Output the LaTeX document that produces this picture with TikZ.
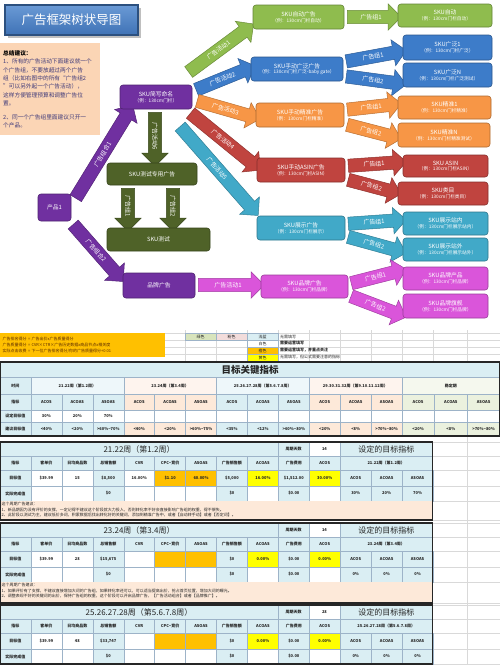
\documentclass[tikz,border=0pt]{standalone}
\usepackage{fontspec}
\setmainfont{Noto Sans CJK SC}
\usetikzlibrary{shapes.arrows,calc,shadows}
\definecolor{cpurple}{HTML}{7030A0}
\definecolor{cgreenD}{HTML}{4F6228}
\definecolor{cgreenL}{HTML}{8FBC4E}
\definecolor{cblue}{HTML}{3D7CC9}
\definecolor{corange}{HTML}{F79646}
\definecolor{cred}{HTML}{C0443F}
\definecolor{cteal}{HTML}{41A9C8}
\definecolor{cmag}{HTML}{DA55DA}
\definecolor{ctitle}{HTML}{3F72B5}
\definecolor{ctitleL}{HTML}{6A9AD6}
\definecolor{cpeach}{HTML}{FBD5B5}
\definecolor{sumtext}{HTML}{3F3A7A}
\definecolor{tblue}{HTML}{DAEEF3}
\definecolor{tpeach}{HTML}{FDE9D9}
\definecolor{tgreen}{HTML}{EBF1DE}
\definecolor{hblue}{HTML}{EEF7FA}
\definecolor{hpeach}{HTML}{FEF4EE}
\definecolor{hgreen}{HTML}{F5F8EE}
\definecolor{torange}{HTML}{FFC000}
\definecolor{tyellow}{HTML}{FFFF00}
\definecolor{lgreen}{HTML}{D8E4BC}
\definecolor{lpink}{HTML}{F2DCDB}
\definecolor{gridc}{HTML}{D9D9D9}
\definecolor{tline}{HTML}{9DB3C8}
\definecolor{legtext}{HTML}{5A2A00}
\newcount\cellcnt
\tikzset{
  tbox/.style={draw=#1!70!black, fill=#1, rounded corners=3pt, text=white, align=center,
    font=\fontsize{5.8}{6.8}\selectfont, line width=0.6pt, inner sep=1pt},
  blockarr/.style={single arrow, single arrow head extend=6.5pt, inner xsep=1pt, inner ysep=3.6pt,
    draw=#1!75!black, fill=#1, text=white, font=\fontsize{6}{6.4}\selectfont, line width=0.5pt},
  ctext/.style={font=\fontsize{4}{4.6}\selectfont\bfseries, text=black!85, inner sep=0pt, align=center},
  cline/.style={draw=tline, line width=0.35pt},
  gridl/.style={draw=gridc, line width=0.3pt},
  tborder/.style={draw=black!85, line width=1.1pt},
  notetext/.style={font=\fontsize{4}{5.6}\selectfont, text=black!85, align=left, inner sep=0pt, anchor=north west},
}
\newcommand\subl[1]{\\[-1.2pt]{\fontsize{4.7}{5.5}\selectfont #1}}
\newcommand\tbx[7]{\node[tbox=#6, minimum width={#4pt-#2pt}, minimum height={#5pt-#3pt}] (#1) at ({(#2+#4)/2},{(#3+#5)/2}) {#7};}
\newcommand\barrow[5]{%
  \coordinate (#1s) at (#2); \coordinate (#1e) at (#3);
  \path let \p1=($(#1e)-(#1s)$), \n1={atan2(\y1,\x1)}, \n2={veclen(\x1,\y1)} in
    node[blockarr=#4, rotate=\n1, minimum height=\n2] (#1) at ($(#1s)!0.5!(#1e)$) {#5};}
\newcommand\tc[6]{\global\advance\cellcnt by 1
  \path[cline, fill=#5] (#1,#2) rectangle (#3,#4);
  \node[ctext] (c\the\cellcnt) at ({(#1+#3)/2},{(#2+#4)/2}) {#6};}
\newcommand\trow[3]{\foreach \fc/\tx [count=\i from 0] in {#3} {%
  \pgfmathsetmacro\xa{\i*30.93}\pgfmathsetmacro\xb{(\i+1)*30.93}%
  \tc{\xa}{#1}{\xb}{#2}{\fc}{\tx}}}
\newcommand\labrow[2]{\trow{#1}{#2}{tblue/指标, tblue/客单价, tblue/日均商品数, tblue/总销售额, tblue/CVR, tblue/CPC\textasciitilde 竞价, tblue/ASOAS, tblue/广告销售额, tblue/ACOAS, tblue/广告费用, tblue/ACOS}}
% #1 top, #2 title, #3 days, #4 values, #5 actual, #6 notes height, #7 notes
\newcommand\ptable[7]{%
  \pgfmathsetmacro\ya{#1+14}\pgfmathsetmacro\yb{#1+28}\pgfmathsetmacro\yc{#1+44}\pgfmathsetmacro\yd{#1+59}\pgfmathsetmacro\ye{#1+59+#6}%
  \tc{0}{#1}{278.1}{\ya}{tblue}{{\fontsize{8}{9}\selectfont\mdseries #2}}
  \tc{278.1}{#1}{309}{\ya}{tblue}{周期天数}
  \tc{309}{#1}{339.9}{\ya}{white}{#3}
  \tc{339.9}{#1}{432.6}{\ya}{tblue}{{\fontsize{8}{9}\selectfont\mdseries 设定的目标指标}}
  \labrow{\ya}{\yb}
  \tc{339.9}{\ya}{432.6}{\yb}{tblue}{#2}
  \trow{\yb}{\yc}{#4}
  \trow{\yc}{\yd}{#5}
  \ifdim #6pt>0pt
    \path[fill=tpeach] (0,\yd) rectangle (432.6,\ye);
    \node[notetext] (n#1) at (1.5,{\yd+1.2}) {#7};
  \fi
  \path[tborder] (0,#1) rectangle (432.6,\ye);
}
\begin{document}
\begin{tikzpicture}[x=1pt,y=-1pt]
\useasboundingbox (0,0) rectangle (500,665);
\fill[white] (0,0) rectangle (500,665);

% ---------- title and summary ----------
\node[draw=ctitle!70!black, line width=1.2pt, top color=ctitleL, bottom color=ctitle, drop shadow,
  minimum width=133pt, minimum height=30pt, text=white, font=\fontsize{12.5}{13}\selectfont] (title) at (71.5,20) {广告框架树状导图};
\node[fill=cpeach, anchor=north west, minimum width=100pt, minimum height=92pt, text width=94pt,
  align=left, inner sep=3pt, font=\fontsize{5.7}{8.4}\selectfont, text=sumtext] (summary) at (0,43)
  {{\bfseries\color{black}总结建议：}\\
  1、所有的广告活动下面建议就一个\\个广告组，不要放超过两个广告\\组（比如右图中的所有“广告组2\\”可以另外起一个广告活动），\\这样方便管理预算和调整广告位\\置。\\[5pt]
  2、同一个广告组里面建议只开一\\个产品。};

% ---------- block arrows ----------
\barrow{aA}{74,201}{131,108}{cpurple}{广告组合1}
\barrow{aB}{71,222}{121,279}{cpurple}{广告组合2}
\barrow{aC}{186,74}{251,26}{cgreenL}{广告活动1}
\barrow{aD}{193,91}{252,67}{cblue}{广告活动2}
\barrow{aE}{194,100}{257,118}{corange}{广告活动3}
\barrow{aF}{188,111}{258,168}{cred}{广告活动4}
\barrow{aG}{178,124}{256,213}{cteal}{广告活动5}
\barrow{aH}{155,109}{155,163}{cgreenD}{广告活动6}
\barrow{aI}{128,185}{128,228}{cgreenD}{广告组1}
\barrow{aJ}{173,185}{173,228}{cgreenD}{广告组2}
\barrow{aK}{195,285}{261,285}{cmag}{广告活动1}
\barrow{bA}{344,17}{398,17}{cgreenL}{广告组1}
\barrow{bB}{343,62}{403,51}{cblue}{广告组1}
\barrow{bC}{343,76}{403,84}{cblue}{广告组2}
\barrow{bD}{344,110}{398,104}{corange}{广告组1}
\barrow{bE}{344,124}{398,138}{corange}{广告组2}
\barrow{bF}{345,166}{403,162}{cred}{广告组1}
\barrow{bG}{345,179}{398,193}{cred}{广告组2}
\barrow{bH}{345,224}{403,220}{cteal}{广告组1}
\barrow{bI}{345,236}{403,252}{cteal}{广告组2}
\barrow{bJ}{348,284}{403,270}{cmag}{广告组1}
\barrow{bK}{348,295}{403,316}{cmag}{广告组2}

% ---------- boxes ----------
\tbx{prod}{38}{194}{71}{221}{cpurple}{产品1}
\tbx{sku}{120}{85}{192}{109}{cpurple}{SKU简写命名\subl{（例：130cm门栏）}}
\tbx{testad}{107}{163}{197}{185}{cgreenD}{SKU测试专用广告}
\tbx{test}{107}{228}{210}{251}{cgreenD}{SKU测试}
\tbx{brandad}{123}{273}{195}{298}{cpurple}{品牌广告}
\tbx{mAuto}{253}{5}{344}{29}{cgreenL}{SKU自动广告\subl{（例：130cm门栏自动）}}
\tbx{mBroad}{251}{57}{343}{81}{cblue}{SKU手动广泛广告\subl{（例：130cm门栏广泛-baby gate）}}
\tbx{mExact}{256}{103}{344}{127}{corange}{SKU手动精准广告\subl{（例：130cm门栏精准）}}
\tbx{mAsin}{257}{158}{345}{182}{cred}{SKU手动ASIN广告\subl{（例：130cm门栏ASIN）}}
\tbx{mDisp}{257}{216}{345}{240}{cteal}{SKU展示广告\subl{（例：130cm门栏展示）}}
\tbx{mBrand}{261}{275}{348}{298}{cmag}{SKU品牌广告\subl{（例：130cm门栏品牌）}}
\tbx{rAuto}{398}{4}{492}{27}{cgreenL}{SKU自动\subl{（例：130cm门栏自动）}}
\tbx{rBroad1}{403}{35}{492}{60}{cblue}{SKU广泛1\subl{（例：130cm门栏广泛）}}
\tbx{rBroadN}{403}{63}{492}{87}{cblue}{SKU广泛N\subl{（例：130cm门栏广泛测试）}}
\tbx{rExact1}{398}{96}{491}{119}{corange}{SKU精准1\subl{（例：130cm门栏精准）}}
\tbx{rExactN}{398}{123}{490}{147}{corange}{SKU精准N\subl{（例：130cm门栏精准测试）}}
\tbx{rAsin}{403}{155}{488}{177}{cred}{SKU ASIN\subl{（例：130cm门栏ASIN）}}
\tbx{rCat}{398}{182}{488}{205}{cred}{SKU类目\subl{（例：130cm门栏类目）}}
\tbx{rDispIn}{403}{212}{488}{235}{cteal}{SKU展示站内\subl{（例：130cm门栏展示站内）}}
\tbx{rDispOut}{403}{238}{488}{261}{cteal}{SKU展示站外\subl{（例：130cm门栏展示站外）}}
\tbx{rBrandP}{403}{267}{488}{290}{cmag}{SKU品牌产品\subl{（例：130cm门栏品牌）}}
\tbx{rBrandF}{403}{294}{488}{318}{cmag}{SKU品牌旗舰\subl{（例：130cm门栏品牌）}}

% ---------- spreadsheet grid ----------
\foreach \gx in {185,216,247,278,309,340,371,402,433,467} {\path[gridl] (\gx,330) -- (\gx,362);}
\foreach \gy in {333,340,347,354,361} {\path[gridl] (165,\gy) -- (500,\gy);}
\foreach \gx in {467,500} {\path[gridl] (\gx,436) -- (\gx,665);}
\foreach \gy in {442,456,470,486,501,520,523,537,551,567,582,603,605,619,633,649,664} {\path[gridl] (433,\gy) -- (500,\gy);}

% ---------- formula box and legend ----------
\node[fill=torange, anchor=north west, minimum width=165pt, minimum height=24pt, text width=160pt,
  align=left, inner sep=2pt, font=\fontsize{4}{6.2}\selectfont, text=legtext] (formula) at (0,333)
  {广告排名得分 = 广告出价x广告质量得分\\
   广告质量得分 = CVR×CTR×广告历史数据x商品节点x相关度\\
   实际点击收费 = 下一位广告排名得分/你的广告质量得分+0.01};
\tc{185}{333}{216}{340}{lgreen}{\mdseries 绿色}
\tc{216}{333}{247}{340}{lpink}{\mdseries 粉色}
\tc{247}{333}{278}{340}{tblue}{\mdseries 浅蓝}
\tc{247}{340}{278}{347}{white}{\mdseries 白色}
\tc{247}{347}{278}{354}{torange}{\mdseries 橙色}
\tc{247}{354}{278}{361}{tyellow}{\mdseries 黄色}
\node[ctext, anchor=west, font=\fontsize{4}{4.6}\selectfont] (lg1) at (280,336.5) {无需填写};
\node[ctext, anchor=west] (lg2) at (280,343.5) {需要运营填写};
\node[ctext, anchor=west] (lg3) at (280,350.5) {需要运营填写，并重点关注};
\node[ctext, anchor=west, font=\fontsize{4}{4.6}\selectfont] (lg4) at (280,357.5) {无需填写，但公式需要注意的指标};

% ---------- table 1 ----------
\path[cline, fill=tblue] (0,362) rectangle (500,377);
\node[font=\fontsize{9.5}{10}\selectfont\bfseries, text=black!85] (t1ttl) at (250,369.8) {目标关键指标};
\tc{0}{377}{30.93}{394}{tblue}{时间}
\tc{30.93}{377}{123.8}{394}{hblue}{21.22周（第1.2周）}
\tc{123.8}{377}{216.5}{394}{hpeach}{23.24周（第3.4周）}
\tc{216.5}{377}{309}{394}{hblue}{25.26.27.28周（第5.6.7.8周）}
\tc{309}{377}{401.7}{394}{hpeach}{29.30.31.32周（第9.10.11.12周）}
\tc{401.7}{377}{500}{394}{hgreen}{稳定期}
\trow{394}{410}{tblue/指标, tblue/ACOS, tblue/ACOAS, tblue/ASOAS, tpeach/ACOS, tpeach/ACOAS, tpeach/ASOAS, tblue/ACOS, tblue/ACOAS, tblue/ASOAS, tpeach/ACOS, tpeach/ACOAS, tpeach/ASOAS}
\tc{401.7}{394}{434.5}{410}{tgreen}{ACOS}
\tc{434.5}{394}{467.2}{410}{tgreen}{ACOAS}
\tc{467.2}{394}{500}{410}{tgreen}{ASOAS}
\trow{410}{422}{tblue/设定目标值, white/30\%, white/20\%, white/70\%, white/{}, white/{}, white/{}, white/{}, white/{}, white/{}, white/{}, white/{}, white/{}}
\tc{401.7}{410}{434.5}{422}{white}{}
\tc{434.5}{410}{467.2}{422}{white}{}
\tc{467.2}{410}{500}{422}{white}{}
\trow{422}{436}{tblue/建议目标值, tblue/<40\%, tblue/<20\%, tblue/>60\%\textasciitilde 70\%, tpeach/<40\%, tpeach/<20\%, tpeach/>60\%\textasciitilde 75\%, tblue/<35\%, tblue/<12\%, tblue/>60\%\textasciitilde 80\%, tpeach/<20\%, tpeach/<8\%, tpeach/>70\%\textasciitilde 80\%}
\tc{401.7}{422}{434.5}{436}{tgreen}{<20\%}
\tc{434.5}{422}{467.2}{436}{tgreen}{<8\%}
\tc{467.2}{422}{500}{436}{tgreen}{>70\%\textasciitilde 80\%}
\path[tborder] (0,362) rectangle (500,436);

% ---------- period tables ----------
\ptable{442}{21.22周（第1.2周）}{14}
  {tblue/目标值, white/\$39.99, white/15, tblue/{\$8,500}, white/16.00\%, torange/\$1.10, torange/60.00\%, tblue/{\$5,000}, tyellow/16.00\%, tblue/{\$1,512.00}, tyellow/30.00\%, tblue/ACOS, tblue/ACOAS, tblue/ASOAS}
  {tblue/实际完成值, white/{}, white/{}, tblue/\$0, white/{}, white/{}, white/{}, tblue/\$0, white/{}, tblue/\$0.00, white/{}, tblue/30\%, tblue/20\%, tblue/70\%}
  {19}{这个周期广告建议：\\
  1、新品期因为没有评价的支撑，一定记得不建议这个阶段就大力投入，否则转化率不好会直接影响广告组的权重，得不偿失。\\
  2、此阶段以测试为主，建议低价多词，积累数据后找出转化好的关键词，添加到精准广告中，或者【自动转手动】或者【否定词】。}
\ptable{523}{23.24周（第3.4周）}{14}
  {tblue/目标值, white/\$39.99, white/28, tblue/{\$15,675}, white/{}, torange/{}, torange/{}, tblue/\$0, tyellow/0.00\%, tblue/\$0.00, tyellow/0.00\%, tblue/ACOS, tblue/ACOAS, tblue/ASOAS}
  {tblue/实际完成值, white/{}, white/{}, tblue/\$0, white/{}, white/{}, white/{}, tblue/\$0, white/{}, tblue/\$0.00, white/{}, tblue/0\%, tblue/0\%, tblue/0\%}
  {21}{这个周期广告建议：\\
  1、如果评价有了支撑，不建议直接增加大词的广告组，如果转化率还可以，可以适当提高出价，抢占首页位置，增加大词的曝光。\\
  2、调整表现不好的关键词的出价，保持广告组的权重，这个阶段可以开启品牌广告，【广告活动组合】或者【品牌推广】。}
\ptable{605}{25.26.27.28周（第5.6.7.8周）}{28}
  {tblue/目标值, white/\$39.99, white/48, tblue/{\$33,747}, white/{}, torange/{}, torange/{}, tblue/\$0, tyellow/0.00\%, tblue/\$0.00, tyellow/0.00\%, tblue/ACOS, tblue/ACOAS, tblue/ASOAS}
  {tblue/实际完成值, white/{}, white/{}, tblue/\$0, white/{}, white/{}, white/{}, tblue/\$0, white/{}, tblue/\$0.00, white/{}, tblue/0\%, tblue/0\%, tblue/0\%}
  {0}{}
\end{tikzpicture}
\end{document}
